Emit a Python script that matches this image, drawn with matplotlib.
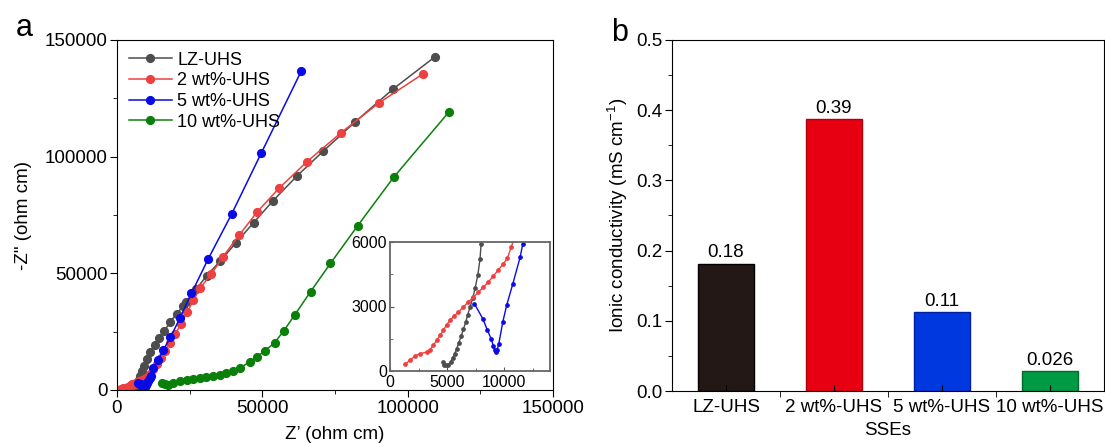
import matplotlib
matplotlib.use("Agg")
import matplotlib.pyplot as plt
from matplotlib.ticker import MultipleLocator, FixedLocator, FormatStrFormatter
import numpy as np

plt.rcParams["font.family"] = ["Liberation Sans", "DejaVu Sans"]
plt.rcParams["mathtext.fontset"] = "custom"
plt.rcParams["mathtext.rm"] = "Liberation Sans"
plt.rcParams["mathtext.it"] = "Liberation Sans:italic"

# ---- panel a: Nyquist data (ohm cm) ----
series_names = ["LZ-UHS", "2 wt%-UHS", "5 wt%-UHS", "10 wt%-UHS"]

z_lz = [4610, 4730, 4900, 5110, 5310, 5490, 5660, 5840, 6020, 6220, 6420, 6630,
        6800, 7010, 7240, 7450, 7680, 7880, 7970, 8500, 9200, 10200, 11500, 13000,
        14500, 16300, 18300, 20500, 22800, 23800, 27300, 30800, 35600, 40800, 47000,
        53600, 61900, 71000, 82000, 95000, 109500]
zz_lz = [420, 295, 265, 295, 420, 600, 800, 1040, 1320, 1610, 1940, 2280,
         2620, 2980, 3390, 3860, 4450, 5220, 5920, 8000, 10500, 13500, 16500, 19500,
         22300, 25500, 29000, 32700, 36000, 37800, 43300, 48900, 55400, 62900, 71700,
         81000, 91700, 102400, 115000, 129000, 142900]

z_2wt = [1315, 1750, 2190, 2630, 3210, 3500, 3800, 4090, 4380, 4670, 4960, 5260,
         5610, 5990, 6420, 6860, 7300, 7740, 8180, 8610, 9050, 9490, 9930, 10280,
         10600, 11500, 12500, 13800, 15000, 16500, 18200, 20000, 22000, 24200, 26300,
         28700, 32500, 36300, 42000, 48200, 55700, 65400, 77100, 90200, 105400]
zz_2wt = [310, 500, 700, 806, 880, 990, 1190, 1430, 1660, 1900, 2150, 2360,
          2560, 2740, 2980, 3210, 3440, 3670, 3910, 4140, 4420, 4710, 4990, 5250,
          5770, 7000, 8800, 11300, 13700, 16800, 20300, 24000, 28200, 33500, 38500,
          43900, 49700, 56900, 66300, 76300, 86400, 97900, 110300, 123100, 135600]

z_5wt = [7390, 8120, 8530, 8850, 9050, 9170, 9260, 9370, 9520, 9870, 10220, 10750,
         11390, 11620, 12500, 14200, 15900, 18400, 21600, 25600, 31300, 39400, 49700,
         63400]
zz_5wt = [3130, 2430, 1890, 1500, 1160, 960, 880, 960, 1270, 2280, 3080, 4060,
          5300, 5920, 9300, 12900, 17100, 22600, 30700, 41400, 56000, 75300, 101700,
          136700]

z_10wt = [15330, 16400, 17620, 19330, 21620, 23920, 26200, 28490, 30780, 33060,
          35350, 37640, 39920, 42200, 45650, 48160, 51020, 54230, 57430, 61210,
          66580, 73450, 82800, 95170, 114300]
zz_10wt = [3140, 2500, 2140, 3140, 3860, 4290, 4710, 5000, 5430, 6000,
           6570, 7430, 8290, 9290, 12140, 14290, 16860, 20290, 25430, 32290,
           42130, 54290, 70400, 91160, 119300]

line_colors = ["#4d4d4d", "#ee4040", "#0a0ae6", "#0a800a"]

# ---- panel b: ionic conductivity ----
sse_labels = ["LZ-UHS", "2 wt%-UHS", "5 wt%-UHS", "10 wt%-UHS"]
conductivity = [0.181, 0.387, 0.112, 0.028]
value_labels = ["0.18", "0.39", "0.11", "0.026"]
bar_colors = ["#231815", "#e60012", "#0038e0", "#009a44"]
bar_edges = ["#000000", "#b0000e", "#0020a0", "#006a2e"]

FS = 13.5
W, H = 1105, 443
fig = plt.figure(figsize=(W / 100, H / 100), dpi=100)

ax = fig.add_axes([117 / W, 1 - 390 / H, (553 - 117) / W, (390 - 40) / H])
nyquist = [(z_lz, zz_lz), (z_2wt, zz_2wt), (z_5wt, zz_5wt), (z_10wt, zz_10wt)]
for (zx, zy), name, c in zip(nyquist, series_names, line_colors):
    ax.plot(zx, zy, "-o", color=c, markersize=5.6, linewidth=1.1, label=name)

ax.set_xlim(0, 150000)
ax.set_ylim(0, 150000)
ax.xaxis.set_major_locator(MultipleLocator(50000))
ax.xaxis.set_minor_locator(MultipleLocator(25000))
ax.yaxis.set_major_locator(MultipleLocator(50000))
ax.yaxis.set_minor_locator(MultipleLocator(25000))
ax.tick_params(which="both", direction="out", labelsize=FS, top=False, right=False)
ax.tick_params(which="major", length=5, pad=2)
ax.tick_params(which="minor", length=3)
ax.set_xlabel("Z\u2019 (ohm cm)", fontsize=FS, labelpad=7)
ax.set_ylabel("-Z\" (ohm cm)", fontsize=FS, labelpad=9)
ax.legend(loc="upper left", frameon=False, fontsize=13, handlelength=2.4,
          handletextpad=0.3, labelspacing=0.2, borderaxespad=0.25,
          bbox_to_anchor=(0.0, 1.0))
fig.text(16 / W, 1 - 28 / H, "a", fontsize=22, va="center", ha="left")

# inset zoom of the high-frequency part
axi = fig.add_axes([390 / W, 1 - 371 / H, (550 - 390) / W, (371 - 242) / H])
for (zx, zy), c in zip(nyquist[:3], line_colors[:3]):
    axi.plot(zx, zy, "-o", color=c, markersize=2.4, linewidth=1.0)
axi.set_xlim(0, 14000)
axi.set_ylim(0, 6000)
axi.xaxis.set_major_locator(MultipleLocator(5000))
axi.xaxis.set_minor_locator(MultipleLocator(2500))
axi.yaxis.set_major_locator(MultipleLocator(3000))
axi.yaxis.set_minor_locator(MultipleLocator(1500))
axi.tick_params(which="both", direction="in", labelsize=11.5, color="#555555")
axi.tick_params(axis="x", which="major", length=3, pad=3)
axi.tick_params(axis="y", which="major", length=3, pad=2)
axi.tick_params(which="minor", length=2)
for s in axi.spines.values():
    s.set_color("#666666")
    s.set_linewidth(1.3)

# ---- panel b ----
bx = fig.add_axes([672 / W, 1 - 391 / H, (1104 - 672) / W, (391 - 40) / H])
pos = np.arange(len(sse_labels))
bx.bar(pos, conductivity, width=0.51, color=bar_colors, edgecolor=bar_edges, linewidth=1.0)
for p, v, t in zip(pos, conductivity, value_labels):
    bx.text(p, v + 0.004, t, ha="center", va="bottom", fontsize=FS)
bx.set_xlim(-0.5, 3.5)
bx.set_ylim(0, 0.5)
bx.set_xticks(pos)
bx.set_xticklabels(sse_labels)
bx.xaxis.set_minor_locator(FixedLocator(pos[:-1] + 0.5))
bx.yaxis.set_major_locator(MultipleLocator(0.1))
bx.yaxis.set_minor_locator(MultipleLocator(0.05))
bx.yaxis.set_major_formatter(FormatStrFormatter("%.1f"))
bx.tick_params(which="both", labelsize=FS, top=False, right=False)
bx.tick_params(axis="y", which="both", direction="out")
bx.tick_params(axis="y", which="major", length=5, pad=2)
bx.tick_params(axis="y", which="minor", length=3)
bx.tick_params(axis="x", which="major", direction="in", length=4, pad=6)
bx.tick_params(axis="x", which="minor", direction="out", length=4)
bx.set_xlabel("SSEs", fontsize=FS, labelpad=4)
bx.set_ylabel("Ionic conductivity (mS cm$^{-1}$)", fontsize=FS, labelpad=4)
fig.text(611 / W, 1 - 33 / H, "b", fontsize=22, va="center", ha="left")

fig.savefig("out.png", dpi=100)
